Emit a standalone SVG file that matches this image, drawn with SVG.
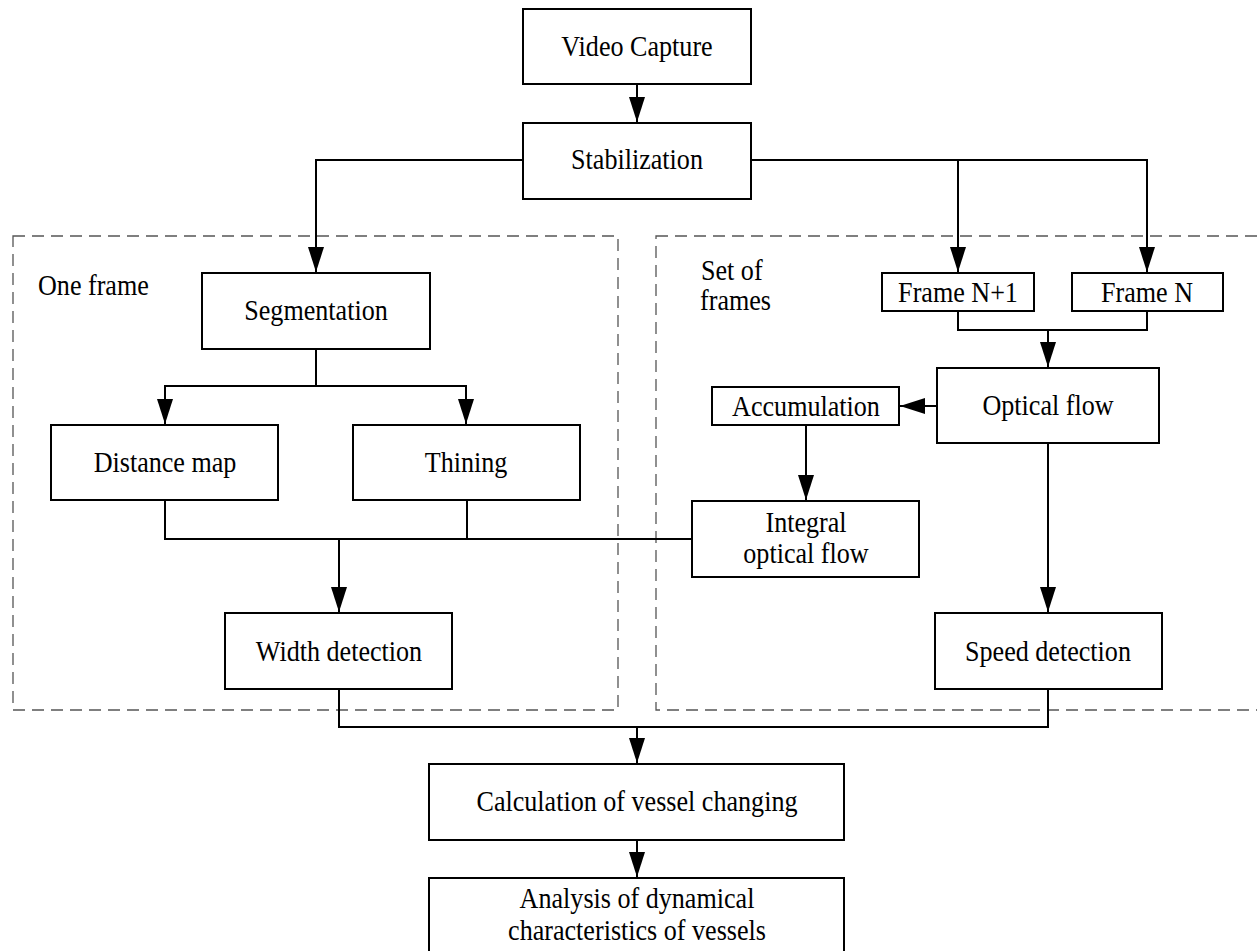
<svg xmlns="http://www.w3.org/2000/svg" width="1257" height="951" viewBox="0 0 1257 951">
<style>
.box{fill:#fff;stroke:#000;stroke-width:2}
.t{font-family:"Liberation Serif","Times New Roman",serif;font-size:29px;fill:#000;text-anchor:middle}
.lbl{font-family:"Liberation Serif","Times New Roman",serif;font-size:29px;fill:#000}
.c{fill:none;stroke:#000;stroke-width:2}
.dash{fill:none;stroke:#555;stroke-width:1.3;stroke-dasharray:12,7}
</style>
<defs>
<marker id="ah" markerUnits="userSpaceOnUse" markerWidth="26" markerHeight="18" refX="25" refY="8" orient="auto">
<path d="M0,0 L25,8 L0,16 z" fill="#000"/>
</marker>
</defs>
<rect width="1257" height="951" fill="#fff"/>
<g id="groups">
<rect class="dash" x="13" y="236" width="605" height="474"/>
<rect class="dash" x="656" y="236" width="620" height="474"/>
<text class="lbl" transform="translate(38,295) scale(0.9,1)">One frame</text>
<text class="lbl" transform="translate(701,280) scale(0.9,1)">Set of</text>
<text class="lbl" transform="translate(700,310) scale(0.9,1)">frames</text>
</g>
<g id="connectors">
<path class="c" d="M637,84 V122" marker-end="url(#ah)"/>
<path class="c" d="M523,160 H316 V272" marker-end="url(#ah)"/>
<path class="c" d="M751,160 H958 V272" marker-end="url(#ah)"/>
<path class="c" d="M958,160 H1147 V272" marker-end="url(#ah)"/>
<path class="c" d="M316,349 V386 H165 V424" marker-end="url(#ah)"/>
<path class="c" d="M316,386 H466 V424" marker-end="url(#ah)"/>
<path class="c" d="M958,311 V330 H1048 V367" marker-end="url(#ah)"/>
<path class="c" d="M1147,311 V330 H1048"/>
<path class="c" d="M937,406 H900" marker-end="url(#ah)"/>
<path class="c" d="M806,425 V500" marker-end="url(#ah)"/>
<path class="c" d="M1048,443 V612" marker-end="url(#ah)"/>
<path class="c" d="M165,500 V539 H339 V612" marker-end="url(#ah)"/>
<path class="c" d="M467,500 V539"/>
<path class="c" d="M692,539 H339"/>
<path class="c" d="M339,689 V727 H637 V763" marker-end="url(#ah)"/>
<path class="c" d="M1048,689 V727 H637"/>
<path class="c" d="M637,840 V877" marker-end="url(#ah)"/>
</g>
<g id="video-capture"><rect class="box" x="523" y="9" width="228" height="75"/><text class="t" transform="translate(637,56) scale(0.9,1)">Video Capture</text></g>
<g id="stabilization"><rect class="box" x="523" y="123" width="228" height="76"/><text class="t" transform="translate(637,169) scale(0.9,1)">Stabilization</text></g>
<g id="segmentation"><rect class="box" x="202" y="273" width="228" height="76"/><text class="t" transform="translate(316,320) scale(0.9,1)">Segmentation</text></g>
<g id="distance-map"><rect class="box" x="51" y="425" width="227" height="75"/><text class="t" transform="translate(165,472) scale(0.9,1)">Distance map</text></g>
<g id="thining"><rect class="box" x="353" y="425" width="227" height="75"/><text class="t" transform="translate(466,472) scale(0.9,1)">Thining</text></g>
<g id="width-detection"><rect class="box" x="225" y="613" width="227" height="76"/><text class="t" transform="translate(339,661) scale(0.9,1)">Width detection</text></g>
<g id="frame-n1"><rect class="box" x="882" y="273" width="152" height="38"/><text class="t" transform="translate(958,302) scale(0.9,1)">Frame N+1</text></g>
<g id="frame-n"><rect class="box" x="1072" y="273" width="151" height="38"/><text class="t" transform="translate(1147,302) scale(0.9,1)">Frame N</text></g>
<g id="optical-flow"><rect class="box" x="937" y="368" width="222" height="75"/><text class="t" transform="translate(1048,415) scale(0.9,1)">Optical flow</text></g>
<g id="accumulation"><rect class="box" x="712" y="387" width="187" height="38"/><text class="t" transform="translate(806,416) scale(0.9,1)">Accumulation</text></g>
<g id="integral-optical-flow"><rect class="box" x="692" y="501" width="227" height="76"/><text class="t" transform="translate(806,532) scale(0.9,1)">Integral</text><text class="t" transform="translate(806,563) scale(0.9,1)">optical flow</text></g>
<g id="speed-detection"><rect class="box" x="935" y="613" width="227" height="76"/><text class="t" transform="translate(1048,661) scale(0.9,1)">Speed detection</text></g>
<g id="calculation"><rect class="box" x="429" y="764" width="415" height="76"/><text class="t" transform="translate(637,811) scale(0.9,1)">Calculation of vessel changing</text></g>
<g id="analysis"><rect class="box" x="429" y="878" width="415" height="80"/><text class="t" transform="translate(637,908) scale(0.9,1)">Analysis of dynamical</text><text class="t" transform="translate(637,940) scale(0.9,1)">characteristics of vessels</text></g>
</svg>
